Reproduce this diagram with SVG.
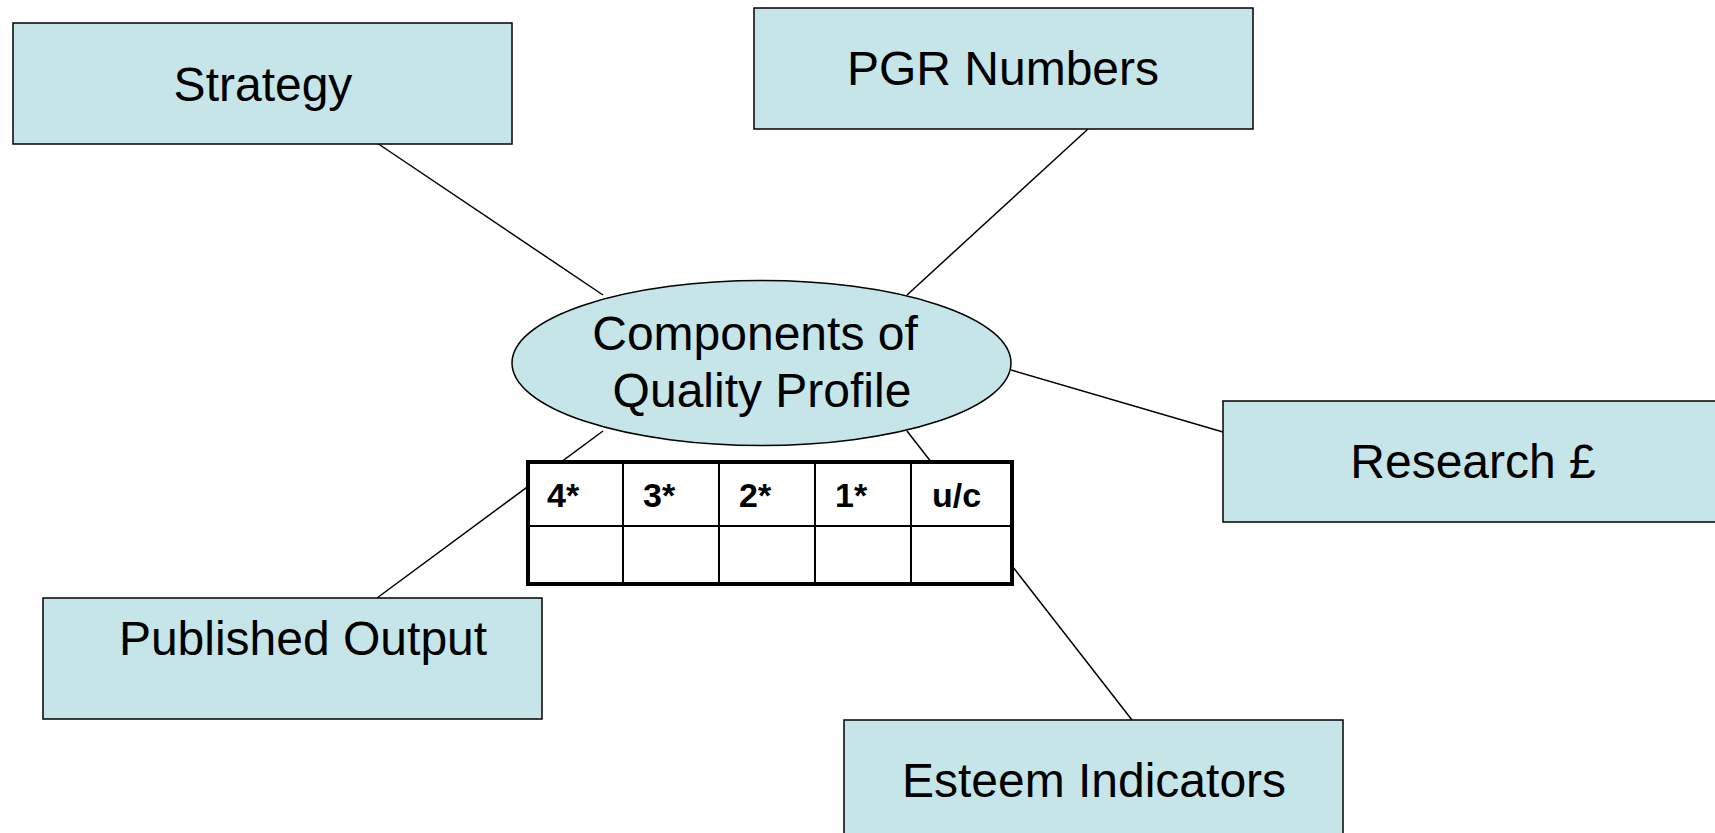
<svg xmlns="http://www.w3.org/2000/svg" width="1715" height="833" viewBox="0 0 1715 833">
  <style>
    .box { fill: #C6E5E8; stroke: #000; stroke-width: 1.5; }
    .lbl { font-family: "Liberation Sans", Arial, sans-serif; font-size: 48px; fill: #000; text-anchor: middle; }
    .hdr { font-family: "Liberation Sans", Arial, sans-serif; font-size: 34px; font-weight: bold; fill: #000; }
    .conn { stroke: #000; stroke-width: 1.5; fill: none; }
    .cell { stroke: #000; stroke-width: 2; }
  </style>
  <rect width="1715" height="833" fill="#fff"/>
  <g id="connectors">
    <line class="conn" x1="377" y1="143" x2="603" y2="295"/>
    <line class="conn" x1="1088" y1="129" x2="907" y2="295"/>
    <line class="conn" x1="1011" y1="370" x2="1223" y2="432"/>
    <line class="conn" x1="603" y1="431" x2="377" y2="598"/>
    <line class="conn" x1="907" y1="431" x2="1132" y2="720"/>
  </g>
  <g id="strategy">
    <rect class="box" x="13" y="23" width="499" height="121"/>
    <text class="lbl" x="263" y="101">Strategy</text>
  </g>
  <g id="pgr-numbers">
    <rect class="box" x="754" y="8" width="499" height="121"/>
    <text class="lbl" x="1003" y="85">PGR Numbers</text>
  </g>
  <g id="research">
    <rect class="box" x="1223" y="401" width="499" height="121"/>
    <text class="lbl" x="1473" y="478">Research £</text>
  </g>
  <g id="published-output">
    <rect class="box" x="43" y="598" width="499" height="121"/>
    <text class="lbl" x="303" y="655">Published Output</text>
  </g>
  <g id="esteem-indicators">
    <rect class="box" x="844" y="720" width="499" height="121"/>
    <text class="lbl" x="1094" y="797">Esteem Indicators</text>
  </g>
  <g id="components">
    <ellipse class="box" cx="761.5" cy="363" rx="249.5" ry="82.5"/>
    <text class="lbl" x="755" y="350">Components of</text>
    <text class="lbl" x="762" y="407">Quality Profile</text>
  </g>
  <g id="profile-table">
    <rect x="528" y="462" width="484" height="122" fill="#fff" stroke="none"/>
    <line class="cell" x1="528" y1="526" x2="1012" y2="526"/>
    <line class="cell" x1="623" y1="462" x2="623" y2="584"/>
    <line class="cell" x1="719" y1="462" x2="719" y2="584"/>
    <line class="cell" x1="815" y1="462" x2="815" y2="584"/>
    <line class="cell" x1="911" y1="462" x2="911" y2="584"/>
    <rect x="528" y="462" width="484" height="122" fill="none" stroke="#000" stroke-width="4"/>
    <text class="hdr" x="547" y="507">4*</text>
    <text class="hdr" x="643" y="507">3*</text>
    <text class="hdr" x="739" y="507">2*</text>
    <text class="hdr" x="835" y="507">1*</text>
    <text class="hdr" x="932" y="507">u/c</text>
  </g>
</svg>
